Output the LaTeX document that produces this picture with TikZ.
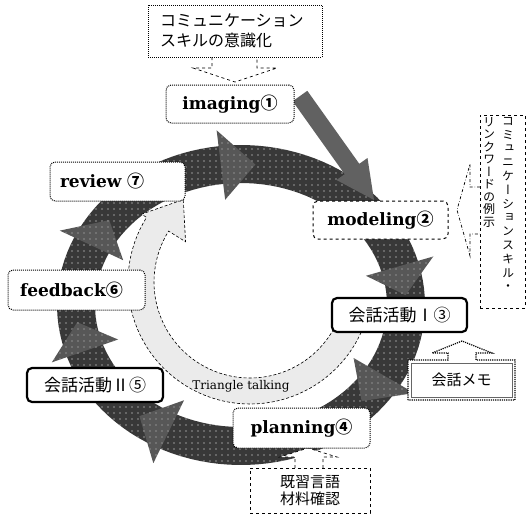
\documentclass[tikz,border=0pt]{standalone}
\usepackage{fontspec}
\setmainfont{DejaVu Serif}
\newfontfamily\cjk{Noto Sans CJK JP}
\newfontfamily\cjkv[RawFeature=+vert]{Noto Sans CJK JP}
\usetikzlibrary{patterns.meta}
\newcommand\ringhead[2]{%
  \fill[headfill] ({241+200*cos(#1)},{305+176*sin(#1)}) -- ({241+165*cos(#2)},{305+141*sin(#2)}) -- ({241+130*cos(#1)},{305+106*sin(#1)}) -- cycle;}
\tikzset{
  ringfill/.style={fill=black!78, postaction={pattern={Dots[distance=6pt,radius=0.7pt]}, pattern color=white}},
  headfill/.style={fill=black!66, postaction={pattern={Dots[distance=6pt,radius=0.6pt]}, pattern color=white!80!black}},
  diagfill/.style={fill=black!62},
  lightarc/.style={fill=black!8, draw, densely dashed, line width=0.6pt},
  lbox/.style={draw, rounded corners=5pt, fill=white, densely dotted, line width=1pt, inner sep=0pt, font=\fontsize{17}{20}\selectfont\bfseries},
  kbox/.style={draw, rounded corners=5pt, fill=white, line width=2.2pt, inner sep=0pt, font=\cjk\fontsize{17}{20}\selectfont},
  notebox/.style={draw, densely dotted, line width=1pt, fill=white, inner sep=0pt},
  callout/.style={draw, dashed, line width=0.7pt, fill=white},
}
\begin{document}
\begin{tikzpicture}[x=1pt,y=-1pt]
\useasboundingbox (0,0) rectangle (527,515);
\fill[white] (0,0) rectangle (527,515);
% dark ring
\fill[ringfill] plot[variable=\t, domain=0:360, samples=120] ({241+184*cos(\t)},{305+160*sin(\t)}) -- plot[variable=\t, domain=360:0, samples=120] ({241+146*cos(\t)},{305+122*sin(\t)}) -- cycle;
\ringhead{263}{275}
\ringhead{344}{356}
\ringhead{30}{43}
\ringhead{116}{128}
\ringhead{161}{173}
\ringhead{205}{217}
% light inner arc
\fill[lightarc] plot[variable=\t, domain=22:212, samples=60] ({250+122*cos(\t)},{282+122*sin(\t)}) -- ({250+128*cos(212)},{282+128*sin(212)}) -- ({250+106*cos(231)},{282+106*sin(231)}) -- ({250+76*cos(212)},{282+76*sin(212)}) -- plot[variable=\t, domain=212:22, samples=60] ({250+96*cos(\t)},{282+96*sin(\t)}) -- cycle;
\node[font=\fontsize{12}{14}\selectfont, inner sep=0pt] (tt) at (241,386) {Triangle talking};
% diagonal arrow imaging -> modeling
\fill[diagfill] (307.3,90.8) -- (359.3,163.8) -- (367.5,158) -- (374,200) -- (336.5,180) -- (344.7,174.2) -- (292.7,101.2) -- cycle;
% top note
\draw[callout] (212,57) -- (212,68) -- (193,68) -- (235,82) -- (277,68) -- (257,68) -- (257,57);
\node[notebox, minimum width=174pt, minimum height=52pt, text width=150pt, align=left, font=\cjk\fontsize{16}{20}\selectfont] (topnote) at (235,31) {コミュニケーション\\スキルの意識化};
% bottom note
\draw[callout] (295,468) -- (295,457) -- (280,457) -- (308,448) -- (337,457) -- (323,457) -- (323,468);
\node[notebox, dashed, minimum width=120pt, minimum height=45pt, align=center, font=\cjk\fontsize{15}{17}\selectfont] (botnote) at (310,490.5) {既習言語\\材料確認};
% vertical note
\draw[dash dot, line width=0.7pt] (480,187) -- (470,187) -- (470,164) -- (457,210) -- (470,256) -- (470,234) -- (480,234);
\node[draw, dashed, line width=0.8pt, fill=white, minimum width=45pt, minimum height=193pt, inner sep=0pt] (vnote) at (502.5,211.5) {};
\node[anchor=north, inner sep=0pt, align=center, font=\cjkv\fontsize{12}{13.8}\selectfont] (vcolR) at (508,117) {コ\\ミ\\ュ\\ニ\\ケ\\ー\\シ\\ョ\\ン\\ス\\キ\\ル\\・};
\node[anchor=north, inner sep=0pt, align=center, font=\cjkv\fontsize{12}{12.5}\selectfont] (vcolL) at (489,117) {リ\\ン\\ク\\ワ\\ー\\ド\\の\\例\\示};
% memo callout
\draw[fill=white, densely dotted, line width=1.2pt] (408,400) -- (408,360) -- (448,360) -- (448,353) -- (432,353) -- (462,341) -- (492,353) -- (476,353) -- (476,360) -- (515,360) -- (515,400) -- cycle;
\draw[black!60, line width=0.8pt] (411,363) rectangle (512,397);
\node[font=\cjk\fontsize{15}{17}\selectfont, inner sep=0pt] (memo) at (461.5,380) {会話メモ};
% stage boxes
\node[lbox, minimum width=128pt, minimum height=38pt] (imaging) at (230,104) {imaging{\cjk ①}};
\node[lbox, dashed, minimum width=135pt, minimum height=38pt] (modeling) at (380.5,220) {modeling{\cjk ②}};
\node[kbox, minimum width=135pt, minimum height=34pt] (kaiwa1) at (399.5,315) {会話活動Ⅰ③};
\node[lbox, minimum width=137pt, minimum height=40pt] (planning) at (301.5,428) {planning{\cjk ④}};
\node[kbox, minimum width=136pt, minimum height=34pt] (kaiwa2) at (95,385) {会話活動Ⅱ⑤};
\node[lbox, minimum width=137pt, minimum height=40pt, text width=113pt, align=left] (feedback) at (76.5,290) {feedback{\cjk ⑥}};
\node[lbox, minimum width=135pt, minimum height=39pt, text width=115pt, align=left] (review) at (117.5,181.5) {review {\cjk ⑦}};
\end{tikzpicture}
\end{document}
